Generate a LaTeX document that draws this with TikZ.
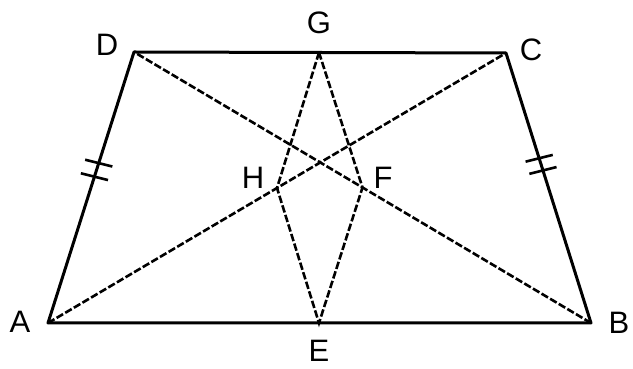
\documentclass[tikz,border=0pt]{standalone}
\usepackage{fontspec}
\setmainfont{Liberation Sans}
\usetikzlibrary{calc}
\tikzset{
  side/.style={line width=3pt, line join=round, line cap=round},
  dashline/.style={line width=2.6pt, dash pattern=on 7.5pt off 2.5pt},
  lbl/.style={inner sep=0pt, font=\fontsize{31}{32}\selectfont},
  eqmark/.style={line width=2.6pt}
}
\begin{document}
\begin{tikzpicture}[x=1pt,y=1pt]
\useasboundingbox (0,0) rectangle (633,369);
\coordinate (A) at (48,46);
\coordinate (B) at (591,46);
\coordinate (C) at (506,316);
\coordinate (D) at (134,317);
\coordinate (G) at (319,316.5);
\coordinate (E) at (319,46);
\coordinate (H) at ($(A)!0.5!(C)$);
\coordinate (F) at ($(B)!0.5!(D)$);
% dashed lines
\draw[dashline] (A) -- (C);
\draw[dashline] (B) -- (D);
\draw[dashline] (G) -- (H) -- (E) -- (F) -- cycle;
% sides
\draw[side] (A) -- (B) -- (C) -- (D) -- cycle;
% equal marks
\coordinate (T1) at ($(A)!0.59!(D)$);
\coordinate (T2) at ($(A)!0.54!(D)$);
\coordinate (T3) at ($(B)!0.61!(C)$);
\coordinate (T4) at ($(B)!0.565!(C)$);
\draw[eqmark] ([shift={(166:14)}]T1) -- ([shift={(-14:14)}]T1);
\draw[eqmark] ([shift={(166:14)}]T2) -- ([shift={(-14:14)}]T2);
\draw[eqmark] ([shift={(194:14)}]T3) -- ([shift={(14:14)}]T3);
\draw[eqmark] ([shift={(194:14)}]T4) -- ([shift={(14:14)}]T4);
% labels
\node[lbl] (lA) at (20,47) {A};
\node[lbl] (lB) at (619,46) {B};
\node[lbl] (lC) at (531,319) {C};
\node[lbl] (lD) at (107,324) {D};
\node[lbl] (lG) at (319,346) {G};
\node[lbl] (lE) at (319,18) {E};
\node[lbl] (lH) at (253,191) {H};
\node[lbl] (lF) at (383,191) {F};
\end{tikzpicture}
\end{document}
